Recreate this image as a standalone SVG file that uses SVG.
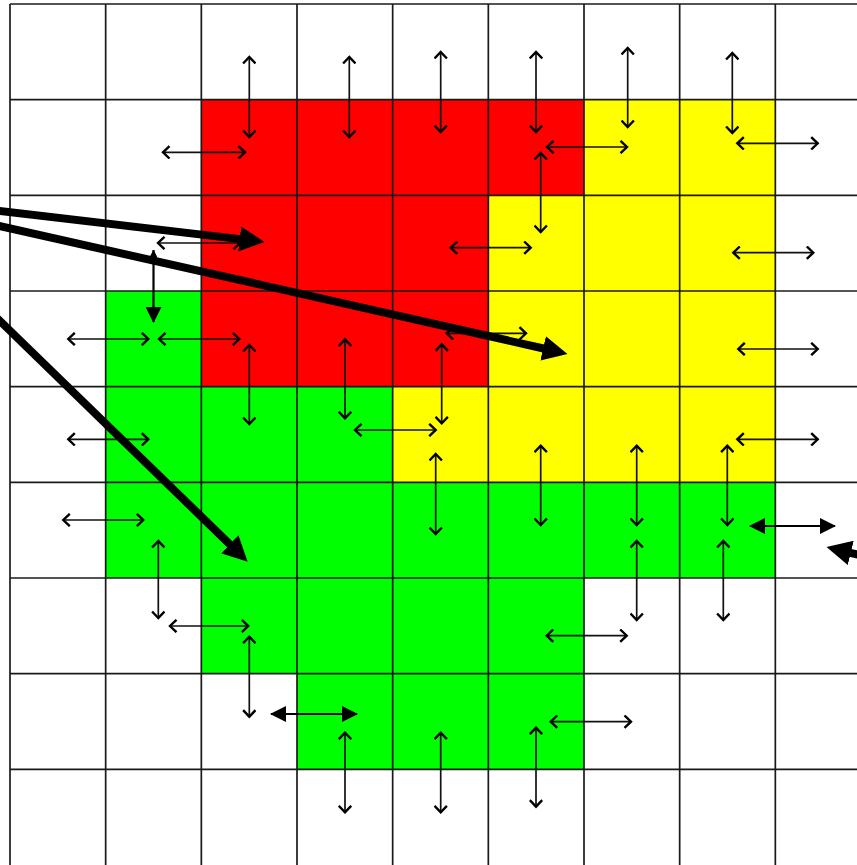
<svg xmlns="http://www.w3.org/2000/svg" width="857" height="865" viewBox="0 0 857 865">
<style>
.red{fill:#FF0000}
.yel{fill:#FFFF00}
.grn{fill:#00FF00}
.grid line{stroke:#1a1a1a;stroke-width:1.7}
.thin{stroke:#111;stroke-width:1.7;fill:none;marker-start:url(#chev);marker-end:url(#chev)}
.fill2{stroke:#000;stroke-width:2.2;fill:none}
.thick{stroke:#000;stroke-width:8;fill:none;marker-end:url(#big)}
</style>
<defs>
<marker id="chev" viewBox="0 0 10 14" refX="8" refY="7" markerWidth="10" markerHeight="14" markerUnits="userSpaceOnUse" orient="auto-start-reverse">
<path d="M1.5,0.8 L8,7 L1.5,13.2" fill="none" stroke="#000" stroke-width="2.4"/>
</marker>
<marker id="tri" viewBox="0 0 16 16" refX="15" refY="8" markerWidth="16" markerHeight="16" markerUnits="userSpaceOnUse" orient="auto-start-reverse">
<path d="M0,0 L16,8 L0,16 z" fill="#000"/>
</marker>
<marker id="trism" viewBox="0 0 8 8" refX="7.5" refY="4" markerWidth="8" markerHeight="8" markerUnits="userSpaceOnUse" orient="auto-start-reverse">
<path d="M0,0 L8,4 L0,8 z" fill="#000"/>
</marker>
<marker id="big" viewBox="0 0 25 25" refX="0.5" refY="12.5" markerWidth="25" markerHeight="25" markerUnits="userSpaceOnUse" orient="auto">
<path d="M0,0 L25,12.5 L0,25 z" fill="#000"/>
</marker>
</defs>
<rect x="0" y="0" width="857" height="865" fill="#fff"/>
<g id="region-red">
<rect class="red" x="201.33" y="99.67" width="382.67" height="95.67"/>
<rect class="red" x="201.33" y="195.33" width="287" height="191.34"/>
</g>
<g id="region-yellow">
<rect class="yel" x="584" y="99.67" width="191.33" height="95.67"/>
<rect class="yel" x="488.33" y="195.33" width="287" height="191.34"/>
<rect class="yel" x="392.67" y="386.67" width="382.67" height="95.66"/>
</g>
<g id="region-green">
<rect class="grn" x="105.67" y="291" width="95.67" height="95.67"/>
<rect class="grn" x="105.67" y="386.67" width="287" height="95.66"/>
<rect class="grn" x="105.67" y="482.33" width="669.66" height="95.67"/>
<rect class="grn" x="201.33" y="578" width="382.67" height="95.67"/>
<rect class="grn" x="297" y="673.67" width="287" height="95.66"/>
</g>
<g id="grid" class="grid">
<line x1="10" y1="4" x2="10" y2="865"/>
<line x1="105.67" y1="4" x2="105.67" y2="865"/>
<line x1="201.33" y1="4" x2="201.33" y2="865"/>
<line x1="297" y1="4" x2="297" y2="865"/>
<line x1="392.67" y1="4" x2="392.67" y2="865"/>
<line x1="488.33" y1="4" x2="488.33" y2="865"/>
<line x1="584" y1="4" x2="584" y2="865"/>
<line x1="679.67" y1="4" x2="679.67" y2="865"/>
<line x1="775.33" y1="4" x2="775.33" y2="865"/>
<line x1="10" y1="4" x2="857" y2="4"/>
<line x1="10" y1="99.67" x2="857" y2="99.67"/>
<line x1="10" y1="195.33" x2="857" y2="195.33"/>
<line x1="10" y1="291" x2="857" y2="291"/>
<line x1="10" y1="386.67" x2="857" y2="386.67"/>
<line x1="10" y1="482.33" x2="857" y2="482.33"/>
<line x1="10" y1="578" x2="857" y2="578"/>
<line x1="10" y1="673.67" x2="857" y2="673.67"/>
<line x1="10" y1="769.33" x2="857" y2="769.33"/>
</g>
<g id="connectors">
<line class="thin" x1="249.3" y1="57" x2="249.3" y2="137"/>
<line class="thin" x1="349.3" y1="57" x2="349.3" y2="137"/>
<line class="thin" x1="440.7" y1="52" x2="440.7" y2="132"/>
<line class="thin" x1="536" y1="52" x2="536" y2="132"/>
<line class="thin" x1="627.7" y1="48" x2="627.7" y2="127"/>
<line class="thin" x1="732.3" y1="53" x2="732.3" y2="133"/>
<line class="thin" x1="163" y1="152.3" x2="245" y2="152.3"/>
<line class="thin" x1="547" y1="147" x2="627" y2="147"/>
<line class="thin" x1="737.3" y1="143.3" x2="817.7" y2="143.3"/>
<line class="thin" x1="540.7" y1="153" x2="540.7" y2="232"/>
<line class="thin" x1="158" y1="243" x2="240" y2="243"/>
<line class="thin" x1="450.7" y1="247.7" x2="530.7" y2="247.7"/>
<line class="thin" x1="733.3" y1="252.7" x2="813.3" y2="252.7"/>
<line class="thin" x1="68.3" y1="339" x2="148.3" y2="339"/>
<line class="thin" x1="159" y1="339" x2="239.3" y2="339"/>
<line class="thin" x1="446.7" y1="333.3" x2="526" y2="333.3"/>
<line class="thin" x1="738.3" y1="349" x2="817.7" y2="349"/>
<line class="thin" x1="249.3" y1="345" x2="249.3" y2="424"/>
<line class="thin" x1="345" y1="339.3" x2="345" y2="418.3"/>
<line class="thin" x1="441.7" y1="344.3" x2="441.7" y2="423.3"/>
<line class="thin" x1="68.3" y1="439.3" x2="148.3" y2="439.3"/>
<line class="thin" x1="355" y1="430" x2="435.7" y2="430"/>
<line class="thin" x1="737.3" y1="439.3" x2="817.7" y2="439.3"/>
<line class="thin" x1="435.7" y1="454" x2="435.7" y2="534"/>
<line class="thin" x1="540.7" y1="445.7" x2="540.7" y2="525"/>
<line class="thin" x1="636.7" y1="445.7" x2="636.7" y2="525"/>
<line class="thin" x1="727.3" y1="445.7" x2="727.3" y2="525"/>
<line class="thin" x1="63.3" y1="520" x2="143.3" y2="520"/>
<line class="thin" x1="158.3" y1="541" x2="158.3" y2="618"/>
<line class="thin" x1="636.7" y1="541" x2="636.7" y2="620"/>
<line class="thin" x1="723.3" y1="541" x2="723.3" y2="620"/>
<line class="thin" x1="170" y1="626" x2="248.3" y2="626"/>
<line class="thin" x1="249.3" y1="636.7" x2="249.3" y2="716.7"/>
<line class="thin" x1="546.7" y1="635.7" x2="626.7" y2="635.7"/>
<line class="thin" x1="550.7" y1="721.7" x2="631" y2="721.7"/>
<line class="thin" x1="345" y1="732.7" x2="345" y2="812.3"/>
<line class="thin" x1="440.7" y1="732.7" x2="440.7" y2="812.3"/>
<line class="thin" x1="536" y1="727.7" x2="536" y2="806.7"/>
<line class="fill2" x1="153.5" y1="250" x2="153.5" y2="322" marker-start="url(#trism)" marker-end="url(#tri)"/>
<line class="fill2" x1="750" y1="526" x2="835" y2="526" marker-start="url(#tri)" marker-end="url(#tri)"/>
<line class="fill2" x1="271" y1="714" x2="357" y2="714" marker-start="url(#tri)" marker-end="url(#tri)"/>
<line class="thick" x1="-10" y1="209.8" x2="240.2" y2="239.1"/>
<line class="thick" x1="-10" y1="223.8" x2="543.6" y2="348.5"/>
<line class="thick" x1="-10" y1="311.3" x2="230.1" y2="544.6"/>
<line class="thick" x1="880" y1="560" x2="850.3" y2="552.8"/>
</g>
</svg>
